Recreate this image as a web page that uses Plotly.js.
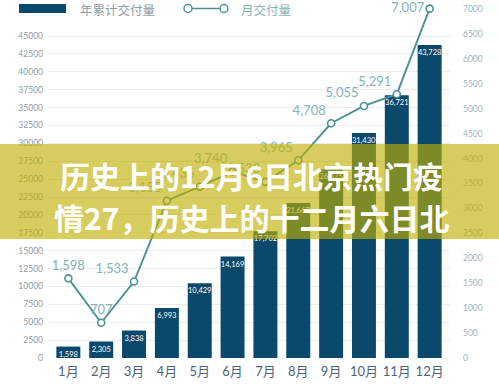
<!DOCTYPE html>
<html>
<head>
<meta charset="utf-8">
<script src="https://cdn.plot.ly/plotly-3.0.1.min.js"></script>
<style>html,body{margin:0;padding:0;background:#fff;}#chart{width:499px;height:385px;}</style>
</head>
<body>
<div id="chart"></div>
<script>
// ---- data ----
var months = ['1月','2月','3月','4月','5月','6月','7月','8月','9月','10月','11月','12月'];
var cumulative = [1598, 2305, 3838, 6993, 10429, 14169, 17702, 21667, 26375, 31430, 36721, 43728];
var monthly = [1598, 707, 1533, 3155, 3436, 3740, 3533, 3965, 4708, 5055, 5291, 7007];
var seriesNames = ['年累计交付量', '月交付量'];
var leftTicks = [0,2500,5000,7500,10000,12500,15000,17500,20000,22500,25000,27500,30000,32500,35000,37500,40000,42500,45000];
var rightTicks = [0,500,1000,1500,2000,2500,3000,3500,4000,4500,5000,5500,6000,6500,7000];
var bannerLines = ['历史上的12月6日北京热门疫', '情27，历史上的十二月六日北'];

function fmt(v){ return v.toLocaleString('en-US'); }

var BAR = '#0b496c';
var LINE = '#4a9196';
var NUMFONT = 'Lato, "Noto Sans CJK SC", sans-serif';
var CJK = '"Noto Sans CJK SC", "Noto Sans", sans-serif';

// plot area pixels: x 48..450, y 6..358
var W = 499, H = 385, L = 48, R = 49, T = 6, B = 27;
var pw = W - L - R, ph = H - T - B;
function px(x){ return (x - L) / pw; }
function py(y){ return (H - B - y) / ph; }

var linePos = monthly.map(function(v, i){
  if (i < 2) return 'top center';
  if (i === monthly.length - 1) return 'middle left';
  return 'top left';
});

var traces = [
  {
    type: 'bar', name: seriesNames[0], x: months, y: cumulative,
    marker: {color: BAR}, width: 0.73,
    text: cumulative.map(fmt), textposition: 'inside', insidetextanchor: 'end',
    textangle: 0, textfont: {size: 7.5, color: '#ffffff', family: NUMFONT},
    hoverinfo: 'none', cliponaxis: false
  },
  {
    type: 'scatter', name: seriesNames[1], x: months, y: monthly, yaxis: 'y2',
    mode: 'lines+markers+text',
    line: {color: LINE, width: 1.9},
    marker: {symbol: 'circle', size: 7, color: '#ffffff', line: {color: LINE, width: 1.6}},
    text: monthly.map(fmt), textposition: linePos,
    textfont: {size: 13, color: '#86b2b6', family: NUMFONT},
    cliponaxis: false, hoverinfo: 'none'
  }
];

// 0 at y=358; 45000 (left) at y=36; 7000 (right) at y=9
var leftMax = 45000 * ph / (358 - 36);
var rightMax = 7000 * ph / (358 - 9);

var shapes = [
  // banner
  {type: 'rect', xref: 'paper', yref: 'paper', x0: px(0), x1: px(W), y0: py(239), y1: py(144),
   fillcolor: 'rgba(192,176,0,0.63)', line: {width: 0}, layer: 'above'},
  // legend: bar swatch
  {type: 'rect', xref: 'paper', yref: 'paper', x0: px(19), x1: px(66), y0: py(13), y1: py(4),
   fillcolor: BAR, line: {width: 0}},
  // legend: line symbol
  {type: 'line', xref: 'paper', yref: 'paper', x0: px(188), x1: px(224), y0: py(8.5), y1: py(8.5),
   line: {color: LINE, width: 1.5}},
  {type: 'circle', xref: 'paper', yref: 'paper', x0: px(184), x1: px(192), y0: py(12.5), y1: py(4.5),
   fillcolor: '#ffffff', line: {color: LINE, width: 1.5}},
  {type: 'circle', xref: 'paper', yref: 'paper', x0: px(220), x1: px(228), y0: py(12.5), y1: py(4.5),
   fillcolor: '#ffffff', line: {color: LINE, width: 1.5}}
];

var annotations = [
  {xref: 'paper', yref: 'paper', x: px(78), y: py(9), xanchor: 'left', yanchor: 'middle',
   text: seriesNames[0], showarrow: false, font: {family: CJK, size: 12.5, color: '#8d9da9'}},
  {xref: 'paper', yref: 'paper', x: px(239), y: py(9), xanchor: 'left', yanchor: 'middle',
   text: seriesNames[1], showarrow: false, font: {family: CJK, size: 12.5, color: '#86b2b6'}},
  {xref: 'paper', yref: 'paper', x: px(251), y: py(175), xanchor: 'center', yanchor: 'middle',
   text: bannerLines[0], showarrow: false, font: {family: CJK, size: 30, color: '#ffffff', weight: 'bold'}},
  {xref: 'paper', yref: 'paper', x: px(251), y: py(217), xanchor: 'center', yanchor: 'middle',
   text: bannerLines[1], showarrow: false, font: {family: CJK, size: 30, color: '#ffffff', weight: 'bold'}}
];

var layout = {
  width: W, height: H,
  margin: {l: L, r: R, t: T, b: B, pad: 0},
  paper_bgcolor: '#ffffff', plot_bgcolor: '#ffffff',
  showlegend: false,
  bargap: 0.27,
  xaxis: {
    type: 'category', range: [-0.62, 11.62], showgrid: false, zeroline: false, showline: false,
    ticks: '', ticklabelstandoff: 4, tickfont: {family: NUMFONT, size: 13, color: '#4a6379'}, fixedrange: true
  },
  yaxis: {
    range: [0, leftMax], tickmode: 'array', tickvals: leftTicks, ticktext: leftTicks.map(String),
    showgrid: true, gridcolor: '#e9edf0', gridwidth: 1, zeroline: false, showline: false,
    ticks: '', ticklabelstandoff: 4, tickfont: {family: NUMFONT, size: 8.5, color: '#8e9ca7'}
  },
  yaxis2: {
    overlaying: 'y', side: 'right', range: [0, rightMax], tickmode: 'array', tickvals: rightTicks,
    ticktext: rightTicks.map(String), showgrid: false, zeroline: false, showline: false,
    ticks: '', ticklabelstandoff: 12, tickfont: {family: NUMFONT, size: 8.5, color: '#9db3bd'}
  },
  uniformtext: {mode: 'show', minsize: 7.5},
  shapes: shapes,
  annotations: annotations
};

Plotly.newPlot('chart', traces, layout, {displayModeBar: false, staticPlot: true});
</script>
</body>
</html>
